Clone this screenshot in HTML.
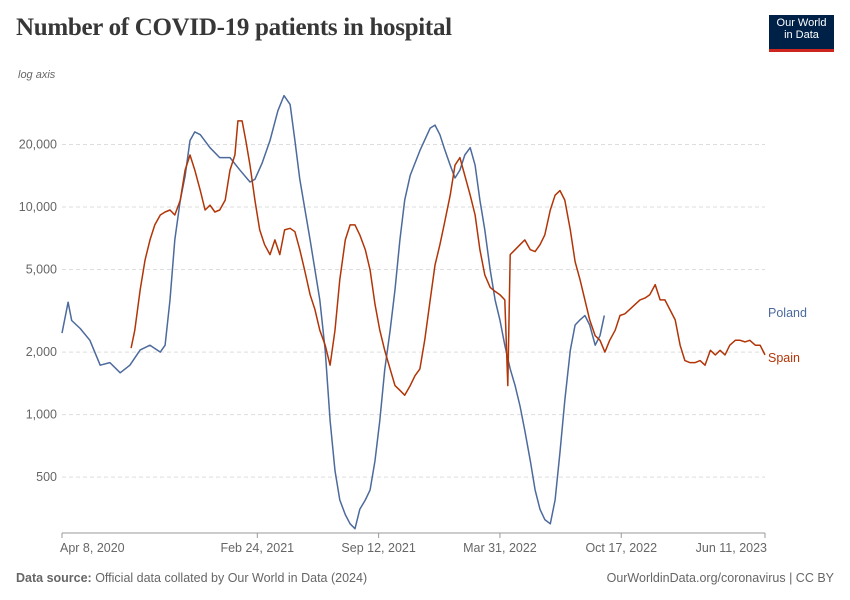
<!DOCTYPE html>
<html><head><meta charset="utf-8">
<style>
body{margin:0;background:#fff;font-family:"Liberation Sans",sans-serif;}
#wrap{position:relative;width:850px;height:600px;overflow:hidden;}
h1{position:absolute;left:16px;top:14px;margin:0;font-family:"Liberation Serif",serif;font-size:25px;font-weight:bold;color:#373737;letter-spacing:-0.3px;}
#logo{position:absolute;left:769px;top:15px;width:65px;height:37px;background:#002147;color:#fff;font-size:11px;line-height:12px;text-align:center;padding-top:2px;box-sizing:border-box;border-bottom:3px solid #ce261e;}
</style></head><body>
<div id="wrap">
<h1>Number of COVID-19 patients in hospital</h1>
<div id="logo">Our World<br>in Data</div>
<svg id="c" width="850" height="600" style="position:absolute;left:0;top:0"></svg>
</div>
<script>
const polandDays=[0,10,16,30,46,63,79,96,112,129,145,162,170,178,186,195,203,211,219,228,244,260,277,293,310,318,330,343,356,366,376,384,392,409,425,434,442,450,458,467,475,483,491,500,508,516,524,532,541,549,557,565,574,590,607,615,623,630,640,648,656,664,673,681,689,697,706,714,722,730,739,747,755,763,772,780,788,796,805,813,821,829,838,846,854,862,870,879,887,894];
const polandValues=[2470,3480,2840,2600,2280,1730,1780,1590,1730,2050,2160,2000,2160,3570,6940,10800,14100,20900,23000,22300,19300,17300,17300,15100,13200,13600,16300,20900,29100,34400,31200,20900,13600,6940,3570,2040,936,536,388,330,298,282,350,388,434,600,936,1640,2540,4000,6940,10800,14200,18700,24000,24800,22300,19300,15900,13800,15050,17800,19300,15900,10800,7760,4970,3570,2860,2160,1660,1380,1100,838,600,434,350,312,298,388,660,1170,2040,2700,2860,3000,2700,2160,2400,3000];
const spainDays=[114,120,129,137,145,153,162,170,178,186,195,203,211,219,228,236,244,252,260,269,277,285,290,297,303,310,318,326,334,343,351,359,367,376,384,392,400,409,417,425,434,442,450,458,467,475,483,491,500,508,516,524,532,541,549,557,565,574,582,590,598,607,615,623,630,640,648,656,664,673,681,689,697,706,714,722,730,735,739,747,755,763,772,780,788,796,805,813,821,829,838,846,854,862,870,879,887,895,903,912,920,928,936,945,953,961,969,978,986,994,1002,1011,1019,1027,1035,1044,1052,1060,1069,1077,1085,1093,1101,1110,1118,1126,1134,1143,1151,1159];
const spainValues=[2090,2550,4000,5570,6940,8200,9150,9460,9670,9150,10800,15050,17800,15050,12000,9670,10200,9460,9670,10800,15050,17800,26000,26000,20900,15900,10800,7760,6580,5900,6940,5900,7760,7900,7600,6230,4970,3780,3210,2550,2160,1730,2550,4470,6940,8200,8200,7340,6230,4970,3400,2550,2040,1660,1380,1310,1240,1380,1540,1660,2280,3570,5250,6580,8200,11400,15900,17300,14200,11400,9150,6230,4710,4100,3920,3780,3570,1380,5900,6230,6580,6940,6230,6100,6580,7340,9670,11400,12000,10800,7760,5450,4470,3570,2860,2400,2280,2000,2280,2550,3000,3060,3210,3400,3570,3640,3780,4230,3570,3570,3210,2860,2160,1820,1780,1780,1820,1730,2040,1940,2040,1940,2160,2280,2280,2240,2280,2160,2160,1940];
const yTicks=[500,1000,2000,5000,10000,20000];
const yTickLabels=["500","1,000","2,000","5,000","10,000","20,000"];
const xTickDays=[0,322,522,722,922,1159];
const xTickLabels=["Apr 8, 2020","Feb 24, 2021","Sep 12, 2021","Mar 31, 2022","Oct 17, 2022","Jun 11, 2023"];

const NS="http://www.w3.org/2000/svg";
const svg=document.getElementById('c');
const x=d=>62+d*(703/1159);
const y=v=>207-(Math.log10(v)-4)*207.6;
function mk(t,a,p){const e=document.createElementNS(NS,t);for(const k in a)e.setAttribute(k,a[k]);(p||svg).appendChild(e);return e;}
let t=mk('text',{x:18,y:78,'font-size':11,'font-style':'italic',fill:'#666'});t.textContent='log axis';


yTicks.forEach((v,i)=>{
 const l=mk('line',{x1:62,x2:765,y1:y(v),y2:y(v),stroke:'#ddd','stroke-dasharray':'4,3'});
 
 
 const tx=mk('text',{x:57,y:y(v)+4,'text-anchor':'end','font-size':12.5,fill:'#666'});
 tx.textContent=yTickLabels[i];
 
 
});
const ax=mk('line',{x1:62,x2:765,y1:533,y2:533,stroke:'#999'});


xTickDays.forEach((d,i)=>{
 const tk=mk('line',{x1:x(d),x2:x(d),y1:533,y2:538,stroke:'#999'});
 
 
 const anchor=i==0?'start':(i==xTickDays.length-1?'end':'middle');
 const tx=mk('text',{x:x(d)+(i==xTickDays.length-1?2:0)-(i==0?2:0),y:552,'text-anchor':anchor,'font-size':12.5,fill:'#666'});
 tx.textContent=xTickLabels[i];
 
 
});
function line(days,vals,color,name){
 const d=days.map((dd,i)=>(i?'L':'M')+x(dd).toFixed(1)+','+y(vals[i]).toFixed(1)).join('');
 const p=mk('path',{d:d,fill:'none',stroke:color,'stroke-width':1.5,'stroke-linejoin':'round'});
 
 
}
line(polandDays,polandValues,'#4c6a9c','poland-line');
line(spainDays,spainValues,'#b13507','spain-line');
let lp=mk('text',{x:768,y:317,'font-size':12.5,fill:'#4c6a9c'});lp.textContent='Poland';


let ls=mk('text',{x:768,y:362,'font-size':12.5,fill:'#b13507'});ls.textContent='Spain';


let s1=mk('text',{x:16,y:582,'font-size':12.5,fill:'#666'});
s1.innerHTML='<tspan font-weight="bold">Data source:</tspan> Official data collated by Our World in Data (2024)';


let s2=mk('text',{x:834,y:582,'font-size':12.5,fill:'#666','text-anchor':'end'});
s2.textContent='OurWorldinData.org/coronavirus | CC BY';


</script>
</body></html>
